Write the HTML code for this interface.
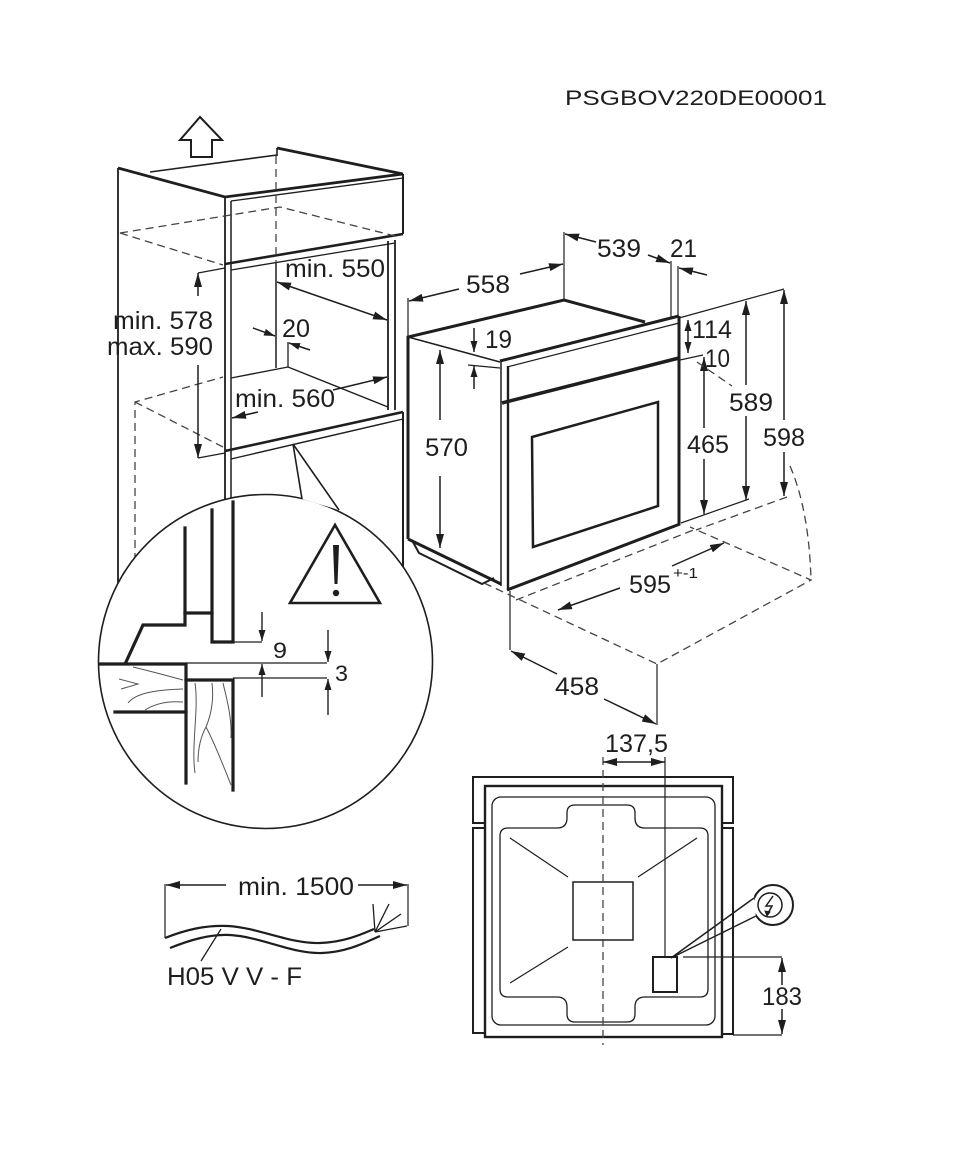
<!DOCTYPE html>
<html><head><meta charset="utf-8"><style>
html,body{margin:0;padding:0;background:#fff;}
svg{display:block;}
text{font-family:"Liberation Sans",Arial,sans-serif;fill:#1e1e1e;}
</style></head><body>
<svg width="972" height="1170" viewBox="0 0 972 1170" xmlns="http://www.w3.org/2000/svg">
<defs>
<marker id="a" viewBox="0 0 14 8" refX="14" refY="4" markerWidth="14" markerHeight="8" markerUnits="userSpaceOnUse" orient="auto-start-reverse"><path d="M0,0 L14,4 L0,8 z" fill="#1e1e1e"/></marker>
<marker id="b" viewBox="0 0 11 7" refX="11" refY="3.5" markerWidth="11" markerHeight="7" markerUnits="userSpaceOnUse" orient="auto-start-reverse"><path d="M0,0 L11,3.5 L0,7 z" fill="#1e1e1e"/></marker>
</defs>
<rect width="972" height="1170" fill="#fff"/>
<g fill="none" stroke="#1e1e1e">

<!-- ===== Cabinet ===== -->
<path d="M200,117 L222,140 L212,140 L212,157 L191,157 L191,140 L180,140 Z" stroke-width="2"/>
<path d="M118,168 L225,197 L403,174" stroke-width="2.8"/>
<path d="M277,148 L403,174" stroke-width="2.8"/>
<line x1="277" y1="148" x2="277" y2="156" stroke-width="1.6"/>
<line x1="231" y1="201" x2="403" y2="178" stroke-width="1.3"/>
<line x1="150" y1="172" x2="277" y2="155" stroke-width="1.6"/>
<line x1="403" y1="174" x2="403" y2="234" stroke-width="2"/>
<line x1="118" y1="168" x2="118" y2="600" stroke-width="1.8"/>
<line x1="225" y1="197" x2="225" y2="520" stroke-width="1.8"/>
<line x1="231" y1="201" x2="231" y2="520" stroke-width="1.5"/>
<line x1="225" y1="264" x2="403" y2="234" stroke-width="2.6"/>
<line x1="231" y1="270" x2="395" y2="243" stroke-width="1.3"/>
<line x1="388" y1="241" x2="388" y2="410" stroke-width="1.8"/>
<line x1="395" y1="240" x2="395" y2="410" stroke-width="1.8"/>
<line x1="225" y1="451" x2="403" y2="412" stroke-width="2.6"/>
<line x1="231" y1="459" x2="403" y2="419" stroke-width="1.4"/>
<line x1="403" y1="412" x2="403" y2="570" stroke-width="2"/>
<line x1="276" y1="263" x2="276" y2="368" stroke-width="1.5"/>
<line x1="231" y1="378" x2="288" y2="367" stroke-width="1.4"/>
<line x1="288" y1="367" x2="388" y2="407" stroke-width="1.4"/>
<line x1="288" y1="342" x2="288" y2="367" stroke-width="1.3"/>

<g stroke-dasharray="8 5" stroke-width="1.3" stroke="#444">
<path d="M120,233 L280,207 L395,236"/>
<path d="M120,233 L223,265"/>
<path d="M276,156 L276,263"/>
<path d="M135,600 L135,402 L223,377"/>
<path d="M135,402 L223,447"/>
</g>

<g stroke-width="1.5">
<line x1="277" y1="282" x2="387" y2="320" marker-start="url(#a)" marker-end="url(#a)"/>
<line x1="253" y1="328" x2="275" y2="336" marker-end="url(#b)"/>
<line x1="310" y1="350" x2="289" y2="343" marker-end="url(#b)"/>
<line x1="258" y1="412" x2="232" y2="418" marker-end="url(#a)"/>
<line x1="333" y1="390" x2="387" y2="377" marker-end="url(#a)"/>
<line x1="198" y1="296" x2="198" y2="273" marker-end="url(#a)"/>
<line x1="198" y1="365" x2="198" y2="458" marker-end="url(#a)"/>
<line x1="198" y1="273" x2="225" y2="268" stroke-width="1.2"/>
<line x1="198" y1="458" x2="225" y2="453" stroke-width="1.2"/>
</g>

<!-- ===== Oven ===== -->
<path d="M408,539 L408,337 L564,300 L645,322" stroke-width="3"/>
<line x1="408" y1="337" x2="500" y2="362" stroke-width="1.5"/>
<line x1="500" y1="361" x2="679" y2="316" stroke-width="3"/>
<line x1="507" y1="367" x2="679" y2="323" stroke-width="1.3"/>
<line x1="501" y1="361" x2="501" y2="586" stroke-width="1.5"/>
<line x1="508" y1="366" x2="508" y2="590" stroke-width="2.4"/>
<line x1="502" y1="403" x2="679" y2="358" stroke-width="3.5"/>
<line x1="679" y1="316" x2="679" y2="525" stroke-width="3"/>
<line x1="507" y1="590" x2="680" y2="524" stroke-width="3"/>
<polygon points="532,437 658,402 658,506 533,547" stroke-width="2.5"/>
<line x1="408" y1="539" x2="501" y2="584" stroke-width="3"/>
<polyline points="413,542 419,553 482,584 494,578" stroke-width="2"/>

<g stroke-width="1.2">
<line x1="408" y1="298" x2="408" y2="337"/>
<line x1="564" y1="232" x2="564" y2="300"/>
<line x1="671" y1="261" x2="671" y2="318"/>
<line x1="678" y1="266" x2="678" y2="316"/>
<line x1="679" y1="318" x2="784" y2="289"/>
<line x1="680" y1="360" x2="703" y2="355"/>
<line x1="681" y1="523" x2="749" y2="499"/>
<line x1="510" y1="591" x2="510" y2="650"/>
<line x1="657" y1="664" x2="657" y2="725"/>
<line x1="468" y1="365" x2="500" y2="368"/>
</g>

<g stroke-width="1.5">
<line x1="459" y1="289" x2="409" y2="301" marker-end="url(#a)"/>
<line x1="520" y1="274" x2="563" y2="264" marker-end="url(#a)"/>
<line x1="596" y1="242" x2="565" y2="234" marker-end="url(#a)"/>
<line x1="648" y1="255" x2="670" y2="263" marker-end="url(#a)"/>
<line x1="707" y1="275" x2="679" y2="268" marker-end="url(#a)"/>
<line x1="474" y1="328" x2="474" y2="352" marker-end="url(#b)"/>
<line x1="474" y1="389" x2="474" y2="366" marker-end="url(#b)"/>
<line x1="440" y1="420" x2="440" y2="350" marker-end="url(#a)"/>
<line x1="440" y1="476" x2="440" y2="548" marker-end="url(#a)"/>
<line x1="688" y1="320" x2="688" y2="353" marker-start="url(#b)" marker-end="url(#b)"/>
<line x1="704" y1="428" x2="704" y2="357" marker-end="url(#a)"/>
<line x1="704" y1="459" x2="704" y2="514" marker-end="url(#a)"/>
<line x1="746" y1="385" x2="746" y2="301" marker-end="url(#a)"/>
<line x1="746" y1="416" x2="746" y2="500" marker-end="url(#a)"/>
<line x1="784" y1="420" x2="784" y2="290" marker-end="url(#a)"/>
<line x1="784" y1="452" x2="784" y2="496" marker-end="url(#a)"/>
<line x1="620" y1="588" x2="558" y2="610" marker-end="url(#a)"/>
<line x1="672" y1="566" x2="724" y2="543" marker-end="url(#a)"/>
<line x1="557" y1="674" x2="511" y2="651" marker-end="url(#a)"/>
<line x1="604" y1="699" x2="656" y2="724" marker-end="url(#a)"/>
</g>

<g stroke-dasharray="8 5" stroke-width="1.3" stroke="#444">
<path d="M484,583 L657,664 L811,580 L690,527"/>
<path d="M516,600 L696,529"/>
<path d="M787,497 L696,530"/>
<path d="M790,466 Q809,510 811,580"/>
<path d="M697,362 L732,386"/>
</g>

<!-- ===== Detail circle ===== -->
<circle cx="265.5" cy="661.5" r="167" fill="#fff" stroke-width="1.6"/>
<polygon points="293,444 302,499 339,510" fill="#fff" stroke="none"/>
<polyline points="302,499 293,444 339,510" stroke-width="1.6"/>

<g stroke-width="3.2" stroke-linecap="square">
<path d="M233,502 V642 H212 V510"/>
<path d="M185,528 V625 H143 L126,662"/>
<path d="M185,613 H212"/>
<path d="M100,664 H186 V783"/>
<path d="M115,712 H186"/>
<path d="M186,680 H233 V790"/>
</g>
<path d="M186,663 H327 M233,678 H327 M233,642 H262" stroke-width="1.2"/>
<g stroke-width="1.4">
<line x1="262" y1="612" x2="262" y2="641" marker-end="url(#b)"/>
<line x1="262" y1="697" x2="262" y2="664" marker-end="url(#b)"/>
<line x1="328" y1="630" x2="328" y2="662" marker-end="url(#b)"/>
<line x1="328" y1="715" x2="328" y2="679" marker-end="url(#b)"/>
</g>
<polygon points="335,525 290,603 380,603" stroke-width="2.6"/>
<path d="M333,545 L339,545 L337.5,584 L334.5,584 Z" fill="#1e1e1e" stroke="none"/>
<circle cx="336" cy="593" r="3.2" fill="#1e1e1e" stroke="none"/>
<g stroke="#555" stroke-width="1">
<path d="M119,679 L138,684 L121,689"/>
<path d="M128,703 C135,694 152,690 183,689"/>
<path d="M145,710 C156,703 170,701 183,702"/>
<path d="M133,667 C150,671 168,676 183,680"/>
<path d="M195,683 C199,710 191,745 195,773"/>
<path d="M212,683 C214,700 211,715 206,727 C200,738 198,750 198,762"/>
<path d="M206,727 C214,742 222,762 231,785"/>
<path d="M223,683 C227,700 232,718 231,738"/>
</g>

<!-- ===== Front view (socket position) ===== -->
<rect x="473" y="777" width="260" height="46" fill="#fff" stroke-width="2"/>
<rect x="473" y="828" width="12" height="205" fill="#fff" stroke-width="2"/>
<rect x="721" y="828" width="12" height="206" fill="#fff" stroke-width="2"/>
<rect x="485" y="786" width="237" height="251" fill="#fff" stroke-width="2.4"/>
<rect x="492" y="797" width="223" height="228" rx="9" stroke-width="1.3"/>
<path d="M508,828 H557 Q567,828 567,818 V813 Q567,805 575,805 H627 Q635,805 635,813 V818 Q635,828 645,828 H700 Q708,828 708,836 V989 Q708,997 700,997 H645 Q635,997 635,1007 V1014 Q635,1022 627,1022 H575 Q567,1022 567,1014 V1007 Q567,997 557,997 H508 Q500,997 500,989 V836 Q500,828 508,828 Z" stroke-width="1.3"/>
<rect x="573" y="882" width="60" height="58" stroke-width="1.5"/>
<g stroke-width="1.2">
<line x1="510" y1="838" x2="568" y2="877"/>
<line x1="697" y1="838" x2="638" y2="877"/>
<line x1="510" y1="983" x2="568" y2="947"/>
</g>
<line x1="603" y1="757" x2="603" y2="1045" stroke-dasharray="8 5" stroke-width="1.3" stroke="#444"/>
<line x1="665" y1="757" x2="665" y2="967" stroke-width="1.2"/>
<line x1="603" y1="762" x2="665" y2="762" stroke-width="1.5" marker-start="url(#a)" marker-end="url(#a)"/>
<rect x="653" y="957" width="24" height="35" fill="#fff" stroke-width="2"/>
<circle cx="773" cy="905" r="20" fill="#fff" stroke-width="2"/>
<polygon points="742,907 754,896 756,918" fill="#fff" stroke="none"/>
<polyline points="754,898 671,958 756,916" stroke-width="1.5"/>
<circle cx="770" cy="905" r="12" stroke-width="1.5"/>
<path d="M773,896 L766,906 L772,906 L767,915" stroke-width="1.5"/>
<path d="M765,911 L767,916 L770,912 Z" fill="#1e1e1e" stroke-width="1"/>
<g stroke-width="1.2">
<line x1="683" y1="957" x2="782" y2="957"/>
<line x1="733" y1="1035" x2="782" y2="1035"/>
</g>
<line x1="782" y1="985" x2="782" y2="958" stroke-width="1.5" marker-end="url(#a)"/>
<line x1="782" y1="1009" x2="782" y2="1034" stroke-width="1.5" marker-end="url(#a)"/>

<!-- ===== Cable ===== -->
<line x1="165" y1="884" x2="165" y2="938" stroke-width="1.2"/>
<line x1="408" y1="884" x2="408" y2="926" stroke-width="1.2"/>
<line x1="226" y1="885" x2="166" y2="885" stroke-width="1.5" marker-end="url(#a)"/>
<line x1="358" y1="885" x2="407" y2="885" stroke-width="1.5" marker-end="url(#a)"/>
<path d="M165,938 C185,930 205,925 228,926 C260,928 290,944 320,943 C345,942 362,934 374,929" stroke-width="2.2"/>
<path d="M170,948 C190,940 210,934 230,935 C262,937 292,954 322,953 C348,952 366,942 380,936" stroke-width="2.2"/>
<g stroke-width="1.3">
<line x1="375" y1="932" x2="373" y2="904"/>
<line x1="375" y1="932" x2="389" y2="904"/>
<line x1="375" y1="932" x2="401" y2="914"/>
<line x1="375" y1="932" x2="407" y2="926"/>
<line x1="221" y1="929" x2="201" y2="961"/>
</g>
</g>

<!-- ===== Text ===== -->
<g font-size="25">
<text x="565" y="105" font-size="21.5" textLength="262" lengthAdjust="spacingAndGlyphs">PSGBOV220DE00001</text>
<text x="285" y="277" textLength="100" lengthAdjust="spacingAndGlyphs">min. 550</text>
<text x="113" y="329" textLength="100" lengthAdjust="spacingAndGlyphs">min. 578</text>
<text x="107" y="355" textLength="106" lengthAdjust="spacingAndGlyphs">max. 590</text>
<text x="282" y="337" textLength="28" lengthAdjust="spacingAndGlyphs">20</text>
<text x="235" y="407" textLength="100" lengthAdjust="spacingAndGlyphs">min. 560</text>
<text x="466" y="293" textLength="44" lengthAdjust="spacingAndGlyphs">558</text>
<text x="597" y="257" textLength="44" lengthAdjust="spacingAndGlyphs">539</text>
<text x="670" y="257" textLength="27" lengthAdjust="spacingAndGlyphs">21</text>
<text x="485" y="348" textLength="27" lengthAdjust="spacingAndGlyphs">19</text>
<text x="692" y="338" textLength="40" lengthAdjust="spacingAndGlyphs">114</text>
<text x="705" y="367" textLength="25" lengthAdjust="spacingAndGlyphs">10</text>
<text x="729" y="411" textLength="44" lengthAdjust="spacingAndGlyphs">589</text>
<text x="763" y="446" textLength="42" lengthAdjust="spacingAndGlyphs">598</text>
<text x="687" y="453" textLength="42" lengthAdjust="spacingAndGlyphs">465</text>
<text x="425" y="456" textLength="43" lengthAdjust="spacingAndGlyphs">570</text>
<text x="629" y="593" textLength="42" lengthAdjust="spacingAndGlyphs">595</text>
<text x="673" y="578" font-size="15" textLength="25" lengthAdjust="spacingAndGlyphs">+-1</text>
<text x="555" y="695" textLength="44" lengthAdjust="spacingAndGlyphs">458</text>
<text x="605" y="752" textLength="63" lengthAdjust="spacingAndGlyphs">137,5</text>
<text x="762" y="1005" textLength="40" lengthAdjust="spacingAndGlyphs">183</text>
<text x="238" y="895" textLength="116" lengthAdjust="spacingAndGlyphs">min. 1500</text>
<text x="167" y="985" textLength="135" lengthAdjust="spacingAndGlyphs">H05 V V - F</text>
<text x="273" y="658" font-size="22" textLength="14" lengthAdjust="spacingAndGlyphs">9</text>
<text x="335" y="681" font-size="22" textLength="13" lengthAdjust="spacingAndGlyphs">3</text>
</g>
</svg>
</body></html>
